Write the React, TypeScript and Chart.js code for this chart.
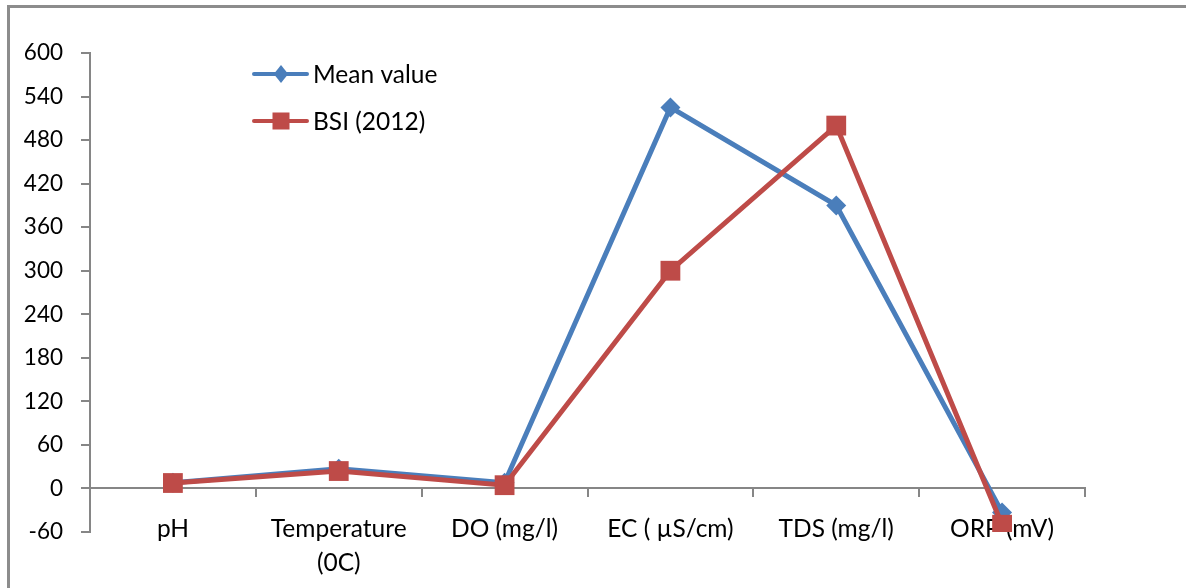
import React, { useEffect, useRef } from 'react';
import { Chart, registerables } from 'chart.js';

Chart.register(...registerables);

const categories: (string | string[])[] = ['pH', ['Temperature', '(0C)'], 'DO (mg/l)', 'EC ( µS/cm)', 'TDS (mg/l)', 'ORP (mV)'];
const meanValues = [7.8, 27, 8, 525, 390, -33];
const bsiValues = [7.5, 24, 4.5, 300, 500, -50];
const yMin = -60;
const yMax = 600;
const yStep = 60;

const FONT = 'Lato, "DejaVu Sans Condensed", sans-serif';
const Y_FONT_SIZE = 22.5;
const X_FONT_SIZE = 24.5;
const LEGEND_FONT_SIZE = 24.5;
const BLUE = '#4a7ebb';
const RED = '#be4b48';
const AXIS = '#868686';

const legendPlugin = {
  id: 'insideLegend',
  afterDraw(chart: any) {
    const ctx = chart.ctx as CanvasRenderingContext2D;
    const rows = [
      { label: 'Mean value', color: BLUE, shape: 'diamond', y: 74 },
      { label: 'BSI (2012)', color: RED, shape: 'square', y: 121 },
    ];
    rows.forEach((r) => {
      ctx.save();
      ctx.strokeStyle = r.color;
      ctx.lineWidth = 4;
      ctx.lineCap = 'round';
      ctx.beginPath();
      ctx.moveTo(254, r.y);
      ctx.lineTo(307, r.y);
      ctx.stroke();
      ctx.fillStyle = r.color;
      const cx = 281;
      if (r.shape === 'diamond') {
        const s = 9;
        ctx.beginPath();
        ctx.moveTo(cx - s * 0.8, r.y);
        ctx.lineTo(cx, r.y - s);
        ctx.lineTo(cx + s * 0.8, r.y);
        ctx.lineTo(cx, r.y + s);
        ctx.closePath();
        ctx.fill();
      } else {
        const s = 8.5;
        ctx.fillRect(cx - s, r.y - s, 2 * s, 2 * s);
      }
      ctx.fillStyle = '#000';
      ctx.font = `${LEGEND_FONT_SIZE}px ${FONT}`;
      ctx.textBaseline = 'middle';
      ctx.textAlign = 'left';
      ctx.fillText(r.label, 313, r.y + 1);
      ctx.restore();
    });
  },
};

export default function App() {
  const ref = useRef<HTMLCanvasElement | null>(null);

  useEffect(() => {
    if (!ref.current) return;
    const chart = new Chart(ref.current, {
      type: 'line',
      data: {
        labels: categories as any,
        datasets: [
          {
            label: 'Mean value',
            data: meanValues,
            borderColor: BLUE,
            backgroundColor: BLUE,
            borderWidth: 5,
            tension: 0,
            pointStyle: 'rectRot',
            pointRadius: 10,
            pointBorderWidth: 0,
            order: 2,
          },
          {
            label: 'BSI (2012)',
            data: bsiValues,
            borderColor: RED,
            backgroundColor: RED,
            borderWidth: 5,
            tension: 0,
            pointStyle: 'rect',
            pointRadius: 14,
            pointBorderWidth: 0,
            order: 1,
          },
        ],
      },
      options: {
        animation: false,
        responsive: true,
        maintainAspectRatio: false,
        layout: { padding: { top: 53, right: 101, bottom: 56, left: 0 } },
        plugins: {
          legend: { display: false },
          tooltip: { enabled: false },
          title: { display: false },
        },
        scales: {
          x: {
            type: 'category',
            offset: true,
            position: { y: 0 } as any,
            grid: {
              drawOnChartArea: false,
              drawTicks: true,
              tickLength: 8,
              color: AXIS,
              lineWidth: 2,
              offset: true,
            },
            border: { display: true, color: AXIS, width: 2 },
            ticks: {
              color: '#000',
              font: { size: X_FONT_SIZE, family: FONT, lineHeight: 1.38 },
              padding: 16,
              maxRotation: 0,
              minRotation: 0,
              autoSkip: false,
            },
            afterFit: (s: any) => {
              s.height = 0;
            },
          },
          y: {
            min: yMin,
            max: yMax,
            ticks: {
              stepSize: yStep,
              color: '#000',
              font: { size: Y_FONT_SIZE, family: FONT },
              padding: 18,
            },
            grid: {
              drawOnChartArea: false,
              drawTicks: true,
              tickLength: 9,
              color: AXIS,
              lineWidth: 2,
            },
            border: { display: true, color: AXIS, width: 2 },
            afterFit: (s: any) => {
              s.width = 90;
            },
          },
        },
      },
      plugins: [legendPlugin],
    });
    return () => chart.destroy();
  }, []);

  return (
    <div>
      <div
        style={{
          position: 'fixed',
          left: 7,
          top: 5,
          width: 1400,
          height: 800,
          borderTop: '3px solid #8c8c8c',
          borderLeft: '3px solid #8c8c8c',
          boxSizing: 'border-box',
        }}
      />
      <div style={{ position: 'fixed', left: 0, top: 0, width: 1186, height: 588 }}>
        <canvas ref={ref} />
      </div>
    </div>
  );
}
